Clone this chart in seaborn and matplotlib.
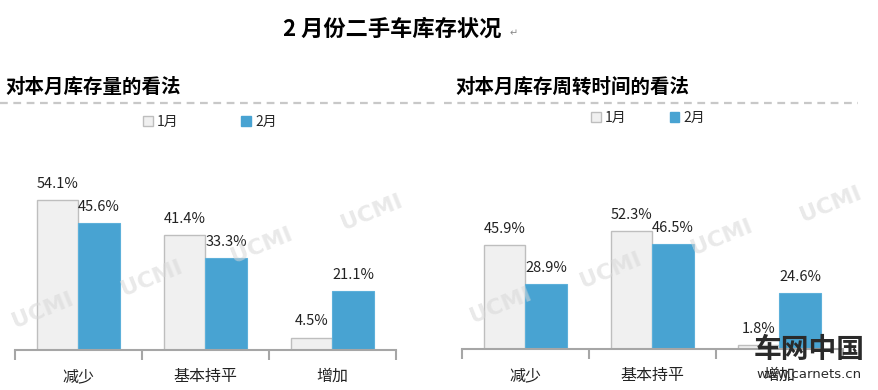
import matplotlib
matplotlib.use("Agg")
import matplotlib.pyplot as plt
import seaborn as sns
import pandas as pd
from matplotlib.patches import Patch
from matplotlib.lines import Line2D

categories = ["减少", "基本持平", "增加"]
months = ["1月", "2月"]
stock_jan = [54.1, 41.4, 4.5]
stock_feb = [45.6, 33.3, 21.1]
turn_jan = [45.9, 52.3, 1.8]
turn_feb = [28.9, 46.5, 24.6]

main_title = "2 月份二手车库存状况"
left_title = "对本月库存量的看法"
right_title = "对本月库存周转时间的看法"

sns.set_theme(style="white")
plt.rcParams['font.family'] = ['Noto Sans CJK SC', 'DejaVu Sans']

C_JAN = "#F0F0F0"
C_JAN_EDGE = "#BEBEBE"
C_FEB = "#48A3D2"
C_AXIS = "#A6A6A6"

W, H = 879, 390
fig = plt.figure(figsize=(W / 100, H / 100), dpi=100)


def fx(px):
    return px / W


def fy(py):
    return 1 - py / H


def make_df(jan, feb):
    rows = []
    for c, v in zip(categories, jan):
        rows.append({"cat": c, "val": v, "month": months[0]})
    for c, v in zip(categories, feb):
        rows.append({"cat": c, "val": v, "month": months[1]})
    return pd.DataFrame(rows)


def draw_panel(rect, jan, feb):
    ax = fig.add_axes(rect)
    df = make_df(jan, feb)
    sns.barplot(data=df, x="cat", y="val", hue="month", order=categories,
                hue_order=months, palette=[C_JAN, C_FEB], width=0.65,
                ax=ax, legend=False, saturation=1)
    for bar in ax.containers[0]:
        bar.set_edgecolor(C_JAN_EDGE)
        bar.set_linewidth(1.0)
    for bar in ax.containers[1]:
        bar.set_edgecolor("#5DB0DA")
        bar.set_linewidth(0.8)
    for cont in ax.containers:
        ax.bar_label(cont, labels=[f"{v:.1f}%" for v in cont.datavalues],
                     padding=6.5, fontsize=10.5, color="#222222")
    ax.set_ylim(0, 60)
    ax.set_xlim(-0.5, 2.5)
    ax.set_xlabel("")
    ax.set_ylabel("")
    ax.set_yticks([])
    for s in ["top", "right", "left"]:
        ax.spines[s].set_visible(False)
    ax.spines["bottom"].set_color(C_AXIS)
    ax.spines["bottom"].set_linewidth(1.5)
    ax.set_xticks([-0.5, 0.5, 1.5, 2.5], minor=True)
    ax.tick_params(axis="x", which="minor", length=7, width=1.5,
                   color=C_AXIS, direction="out", bottom=True)
    ax.tick_params(axis="x", which="major", length=0, pad=13,
                   labelsize=11.5, labelcolor="#222222")
    ax.patch.set_alpha(0)
    return ax


axL = draw_panel([fx(15), 40 / H, 381 / W, 166.5 / H], stock_jan, stock_feb)
axR = draw_panel([fx(461.7), 41 / H, 381.3 / W, 135.9 / H], turn_jan, turn_feb)

# titles
fig.text(fx(392), fy(29), main_title, ha="center", va="center",
         fontsize=16, fontweight="bold", color="#000000")
fig.text(fx(510), fy(33), "\u21b5", ha="left", va="center", fontsize=7,
         color="#888888", family=["DejaVu Sans"])
fig.text(fx(5), fy(87), left_title, ha="left", va="center",
         fontsize=14, fontweight="bold", color="#000000")
fig.text(fx(455), fy(87), right_title, ha="left", va="center",
         fontsize=14, fontweight="bold", color="#000000")

# dashed separators
for x0, x1 in [(0, 440), (444, 858)]:
    fig.add_artist(Line2D([fx(x0), fx(x1)], [fy(103), fy(103)],
                          color="#C8C8C8", lw=1.6, linestyle=(0, (3.5, 2.5))))

# legends
handles = [Patch(facecolor=C_JAN, edgecolor=C_JAN_EDGE, lw=1),
           Patch(facecolor=C_FEB, edgecolor=C_FEB)]
for cx, cy, cs in [(210, 122, 4.5), (648, 118, 3.1)]:
    fig.legend(handles, months, loc="center", bbox_to_anchor=(fx(cx), fy(cy)),
               ncol=2, frameon=False, fontsize=10, handlelength=0.7,
               handleheight=0.7, handletextpad=0.3, columnspacing=cs,
               borderaxespad=0, borderpad=0)

# watermarks
for (x, y) in [(43, 310), (152, 278), (262, 245), (372, 212),
               (501, 305), (611, 270), (722, 237), (831, 204)]:
    fig.text(fx(x), fy(y), "UCMI", ha="center", va="center", rotation=22,
             fontsize=16, fontweight="bold", color="#D8D8D8", alpha=0.55,
             family=["DejaVu Sans"], zorder=10)

# logo text
fig.text(fx(809), fy(350), "车网中国", ha="center", va="center",
         fontsize=20, fontweight="bold", color="#2A2A2A", zorder=11)
fig.text(fx(809), fy(374), "www.carnets.cn", ha="center", va="center",
         fontsize=9.5, color="#2A2A2A", zorder=11, family=["DejaVu Sans"])

fig.savefig("out.png", dpi=100)
